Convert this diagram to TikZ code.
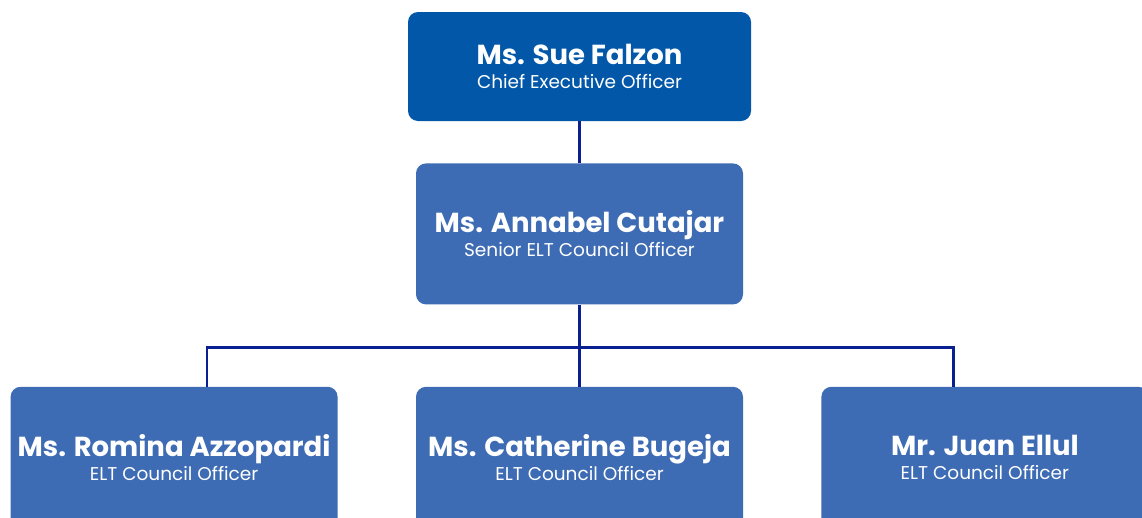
\documentclass[tikz,border=0pt]{standalone}
\usepackage{fontspec}
\setmainfont{Poppins}
\usetikzlibrary{positioning}

\definecolor{ceoblue}{HTML}{0257A8}
\definecolor{staffblue}{HTML}{3D6BB4}
\definecolor{linknavy}{HTML}{0B2090}

\newcommand{\pname}[1]{{\fontsize{27.5}{30}\selectfont\bfseries #1}}

\begin{document}
\begin{tikzpicture}[x=1pt, y=1pt,
    every node/.append style={align=center},
    person/.style={fill=staffblue, text=white, rounded corners=10pt,
      font=\fontsize{18.5}{24}\selectfont,
      minimum width=327pt, minimum height=141pt, inner sep=0pt},
    link/.style={draw=linknavy, line width=2.4pt}]
   \useasboundingbox (0,0) rectangle (1142,-517);
   \node [person, fill=ceoblue, minimum width=343pt, minimum height=109pt]
     (ceo) at (579.5,-66.5) {\pname{Ms. Sue Falzon}\\Chief Executive Officer};
   \node [person, below=42pt of ceo] (senior)
     {\pname{Ms. Annabel Cutajar}\\Senior ELT Council Officer};
   \node [person, below=82pt of senior] (catherine)
     {\pname{Ms. Catherine Bugeja}\\ELT Council Officer};
   \node [person, left=78pt of catherine] (romina)
     {\pname{Ms. Romina Azzopardi}\\ELT Council Officer};
   \node [person, right=78pt of catherine] (juan)
     {\pname{Mr. Juan Ellul}\\ELT Council Officer};

   \path[link] (ceo) -- (senior)
   (senior) -- (catherine)
   (senior.south) -- ++(0,-43) -| ([xshift=33pt]romina.north)
   (senior.south) -- ++(0,-43) -| ([xshift=-31.5pt]juan.north);
\end{tikzpicture}
\end{document}
